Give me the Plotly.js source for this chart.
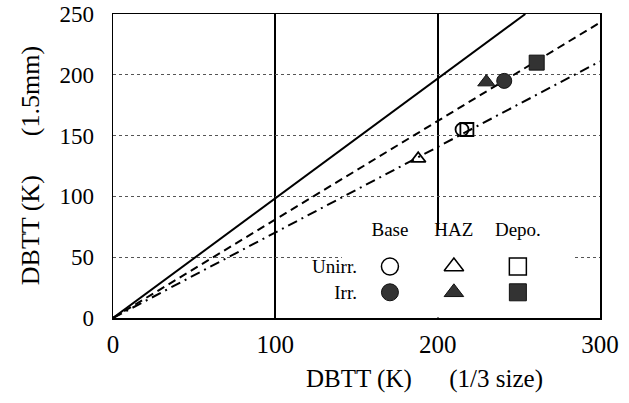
<!DOCTYPE html>
<html>
<head>
<meta charset="utf-8">
<script src="https://cdn.plot.ly/plotly-3.0.1.min.js"></script>
<style>html,body{margin:0;padding:0;background:#fff;}#chart{width:629px;height:403px;}</style>
</head>
<body>
<div id="chart"></div>
<script>
// Data
const materials = ["Base", "HAZ", "Depo."];
const conditions = ["Unirr.", "Irr."];
const unirrX = [215, 188, 218];
const unirrY = [155, 131, 155];
const irrX = [241, 230, 261];
const irrY = [195, 194, 210];
const solidX = [0, 254];
const solidY = [0, 250];
const dashX = [0, 300];
const dashY = [0, 243];
const dashDotX = [0, 300];
const dashDotY = [0, 211];
const xTicks = [0, 100, 200, 300];
const yTicks = [0, 50, 100, 150, 200, 250];

const openSymbols = ["circle-open", "triangle-up-open", "square-open"];
const filledSymbols = ["circle", "triangle-up", "square"];
const serif = "'Liberation Serif', 'DejaVu Serif', serif";
const dark = "#333333";

const traces = [
  {x: solidX, y: solidY, mode: "lines", line: {color: "#000", width: 2}, hoverinfo: "skip"},
  {x: dashX, y: dashY, mode: "lines", line: {color: "#000", width: 2, dash: "8px,5px"}, hoverinfo: "skip"},
  {x: dashDotX, y: dashDotY, mode: "lines", line: {color: "#000", width: 2, dash: "10px,5px,2px,5px"}, hoverinfo: "skip"},
  {x: unirrX, y: unirrY, mode: "markers",
   marker: {symbol: openSymbols, size: 13, color: "#000", line: {color: "#000", width: 1.8}}},
  {x: irrX, y: irrY, mode: "markers",
   marker: {symbol: filledSymbols, size: 15, color: dark, line: {color: "#111", width: 1}}},
  {x: materials, y: materials.map(() => conditions[0]), xaxis: "x2", yaxis: "y2", mode: "markers",
   marker: {symbol: openSymbols, size: 17, color: "#000", line: {color: "#000", width: 1.5}}},
  {x: materials, y: materials.map(() => conditions[1]), xaxis: "x2", yaxis: "y2", mode: "markers",
   marker: {symbol: filledSymbols, size: 17, color: dark, line: {color: "#111", width: 1}}}
];

const layout = {
  width: 629, height: 403,
  margin: {l: 113, r: 29, t: 14, b: 85},
  paper_bgcolor: "#fff", plot_bgcolor: "#fff",
  showlegend: false,
  font: {family: serif, color: "#000"},
  xaxis: {
    range: [0, 300], tickvals: xTicks, ticks: "", showgrid: true,
    gridcolor: "#000", gridwidth: 2, zeroline: false,
    showline: true, mirror: true, linecolor: "#000", linewidth: 1.5,
    tickfont: {family: serif, size: 25, color: "#000"}, ticklabelstandoff: 3,
    ticklabeloverflow: "allow"
  },
  yaxis: {
    range: [0, 250], tickvals: yTicks, ticks: "", showgrid: true,
    gridcolor: "#555", gridwidth: 1, griddash: "3px,3px", zeroline: false,
    showline: true, mirror: true, linecolor: "#000", linewidth: 1.5,
    tickfont: {family: serif, size: 23, color: "#000"}, ticklabelstandoff: 13,
    ticklabeloverflow: "allow"
  },
  xaxis2: {
    domain: [0.503, 0.897], anchor: "y2", type: "category", categoryorder: "array",
    categoryarray: materials, range: [-0.5, 2.5], side: "top",
    showgrid: false, zeroline: false, showline: false, ticks: "",
    tickfont: {family: serif, size: 19, color: "#000"}, ticklabelstandoff: 13, fixedrange: true
  },
  yaxis2: {
    domain: [0.042, 0.212], anchor: "x2", type: "category", categoryorder: "array",
    categoryarray: conditions.slice().reverse(), range: [-0.5, 1.5],
    showgrid: false, zeroline: false, showline: false, ticks: "",
    tickfont: {family: serif, size: 19, color: "#000"}, ticklabelstandoff: 0, fixedrange: true
  },
  shapes: [
    {type: "rect", xref: "x", yref: "y", x0: 141, x1: 283, y0: 0.5, y1: 73,
     fillcolor: "#fff", line: {width: 0}, layer: "between"}
  ],
  annotations: [
    {text: "DBTT (K)&nbsp;&nbsp;&nbsp;&nbsp;&nbsp;&nbsp;(1/3 size)", xref: "paper", yref: "paper",
     x: 0.64, y: -0.2, xanchor: "center", yanchor: "middle", showarrow: false,
     font: {family: serif, size: 25, color: "#000"}},
    {text: "DBTT (K)&nbsp;&nbsp;&nbsp;&nbsp;&nbsp;&nbsp;(1.5mm)", xref: "paper", yref: "paper",
     x: -0.17, y: 0.5, xanchor: "center", yanchor: "middle", textangle: -90, showarrow: false,
     font: {family: serif, size: 26, color: "#000"}}
  ]
};

Plotly.newPlot("chart", traces, layout, {displayModeBar: false, staticPlot: true});
</script>
</body>
</html>
